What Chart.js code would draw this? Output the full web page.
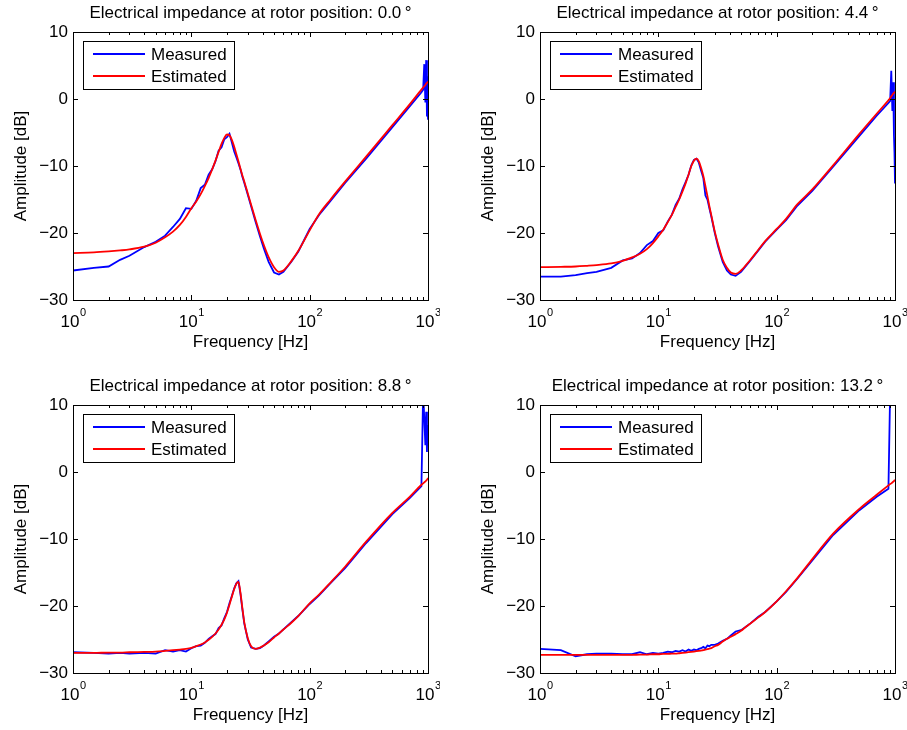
<!DOCTYPE html>
<html>
<head>
<meta charset="utf-8">
<title>Electrical impedance</title>
<script src="https://cdn.jsdelivr.net/npm/chart.js@4.4.0/dist/chart.umd.min.js"></script>
<style>
  html, body { margin: 0; padding: 0; background: #fff; overflow: hidden; }
  body { width: 907px; height: 730px; position: relative; }
  .panel { position: absolute; }
</style>
</head>
<body>
<div class="panel" style="left:0px;top:0px"><canvas id="c0" width="440" height="365"></canvas></div>
<div class="panel" style="left:467px;top:0px"><canvas id="c1" width="440" height="365"></canvas></div>
<div class="panel" style="left:0px;top:373px"><canvas id="c2" width="440" height="365"></canvas></div>
<div class="panel" style="left:467px;top:373px"><canvas id="c3" width="440" height="365"></canvas></div>
<script>
// Rotor positions (deg) shown in the panel titles
const rotorPositions = ["0.0", "4.4", "8.8", "13.2"];

// Frequency grid [Hz]
const freq = [1, 1.5, 2, 2.5, 3, 4, 5, 6, 7, 8, 9, 10, 11, 12, 13, 14, 15, 16, 17, 18,
  19, 20, 21, 22, 23, 24, 25, 26, 27, 28, 30, 32, 35, 38, 41, 45, 50, 55, 60, 70,
  80, 100, 120, 150, 200, 300, 500, 700, 880, 910, 930, 950, 965, 980, 990, 1000];

// Amplitude [dB] per rotor position
const measured0 = [-25.6, -25.2, -25.0, -24.0, -23.4, -22.1, -21.3, -20.4, -19.1, -17.9,
  -16.3, -16.4, -15.2, -13.3, -12.8, -11.3, -10.5, -9.3, -7.7, -7.2,
  -6.0, -5.7, -5.2, -6.5, -7.8, -8.7, -9.6, -10.5, -11.6, -12.5,
  -14.3, -16.0, -18.4, -20.5, -22.3, -24.3, -25.9, -26.2, -25.8, -24.3,
  -22.8, -19.4, -17.3, -15.2, -12.5, -8.9, -4.2, -1.1, 1.0, 1.4,
  5.2, -0.5, 5.8, -2.6, 3.4, -3.1];
const estimated0 = [-23.0, -22.9, -22.75, -22.6, -22.45, -22.05, -21.45, -20.65, -19.8, -18.8,
  -17.6, -16.3, -15.3, -14.2, -13.0, -11.8, -10.5, -9.2, -7.9, -6.7,
  -5.8, -5.3, -5.4, -6.1, -7.1, -8.2, -9.3, -10.4, -11.4, -12.3,
  -14.1, -15.8, -18.1, -20.1, -21.8, -23.6, -25.1, -25.8, -25.6, -24.2,
  -22.7, -19.6, -17.2, -15.0, -12.3, -8.6, -3.9, -0.8, 1.4, 1.7,
  1.9, 2.1, 2.3, 2.4, 2.5, 2.6];

const measured1 = [-26.5, -26.5, -26.3, -26.0, -25.8, -25.2, -24.1, -23.8, -23.0, -21.8,
  -21.2, -20.0, -19.6, -18.3, -17.3, -15.8, -14.9, -13.5, -12.4, -11.3,
  -9.9, -9.1, -8.9, -9.5, -10.7, -11.8, -14.4, -15.0, -16.3, -17.5,
  -20.0, -22.0, -24.3, -25.6, -26.2, -26.4, -25.8, -24.9, -24.1, -22.6,
  -21.3, -19.5, -18.1, -15.9, -13.7, -10.1, -5.5, -2.5, -0.6, -0.3,
  4.2, -1.8, 2.5, -5.5, -8.0, -12.6];
const estimated1 = [-25.1, -25.05, -25.0, -24.9, -24.8, -24.55, -24.15, -23.65, -23.1, -22.4,
  -21.5, -20.5, -19.5, -18.4, -17.3, -16.1, -15.0, -13.8, -12.6, -11.3,
  -10.0, -9.2, -8.9, -9.3, -10.3, -11.5, -13.0, -14.5, -16.0, -17.3,
  -19.8, -21.7, -24.0, -25.2, -25.9, -26.1, -25.6, -24.8, -24.0, -22.5,
  -21.2, -19.4, -17.9, -15.7, -13.5, -9.9, -5.2, -2.2, -0.2, 0.1,
  0.4, 0.6, 0.8, 0.9, 1.0, 1.1];

const measured2 = [-26.9, -27.0, -27.1, -27.0, -27.1, -27.0, -27.1, -26.6, -26.8, -26.6,
  -26.8, -26.3, -26.0, -25.9, -25.5, -24.9, -24.5, -24.2, -23.3, -22.9,
  -21.8, -20.9, -19.6, -18.5, -17.4, -16.6, -16.3, -18.2, -20.5, -22.6,
  -25.0, -26.2, -26.4, -26.3, -25.9, -25.3, -24.6, -24.1, -23.5, -22.4,
  -21.5, -19.7, -18.4, -16.6, -14.3, -10.6, -6.3, -3.9, -2.1, 12.0,
  8.0, 4.0, 9.0, 3.0, 7.0, 5.0];
const estimated2 = [-27.0, -27.0, -26.95, -26.95, -26.9, -26.85, -26.8, -26.7, -26.6, -26.5,
  -26.4, -26.25, -26.0, -25.75, -25.45, -25.05, -24.6, -24.1, -23.5, -22.8,
  -22.0, -21.0, -19.8, -18.6, -17.5, -16.7, -16.4, -18.0, -20.3, -22.4,
  -24.8, -26.0, -26.4, -26.2, -25.9, -25.4, -24.7, -24.1, -23.5, -22.5,
  -21.5, -19.6, -18.3, -16.5, -14.1, -10.4, -6.1, -3.7, -1.9, -1.7,
  -1.55, -1.4, -1.3, -1.15, -1.05, -0.9];

const measured3 = [-26.4, -26.6, -27.5, -27.2, -27.1, -27.1, -27.2, -27.2, -26.9, -27.2,
  -27.0, -27.1, -27.0, -26.8, -26.9, -26.7, -26.8, -26.6, -26.8, -26.5,
  -26.7, -26.5, -26.6, -26.4, -26.3, -26.1, -26.3, -25.9, -26.0, -25.8,
  -25.8, -25.6, -25.2, -24.9, -24.4, -23.8, -23.6, -23.1, -22.6, -21.6,
  -20.9, -19.3, -17.9, -15.9, -13.2, -9.4, -5.7, -3.7, -2.5, 12.0,
  14.0, 13.0, 15.0, 14.0, 15.0, 16.0];
const estimated3 = [-27.3, -27.3, -27.3, -27.3, -27.3, -27.3, -27.3, -27.3, -27.25, -27.25,
  -27.2, -27.2, -27.15, -27.15, -27.1, -27.1, -27.05, -27.0, -26.95, -26.9,
  -26.85, -26.8, -26.75, -26.7, -26.65, -26.6, -26.5, -26.45, -26.35, -26.3,
  -26.0, -25.8, -25.3, -24.9, -24.6, -24.2, -23.7, -23.1, -22.6, -21.7,
  -20.9, -19.3, -17.8, -15.8, -13.0, -9.2, -5.5, -3.4, -2.0, -1.8,
  -1.7, -1.55, -1.45, -1.35, -1.25, -1.15];

const measuredSets = [measured0, measured1, measured2, measured3];
const estimatedSets = [estimated0, estimated1, estimated2, estimated3];

// Axis ticks
const xTickExponents = [0, 1, 2, 3];
const yMin = -30, yMax = 10, yStep = 10;

const FONT = "'Liberation Sans', Arial, Helvetica, sans-serif";
Chart.defaults.font.family = FONT;
Chart.defaults.font.size = 17;
Chart.defaults.color = "#000";

// MATLAB-like axes: box, inward ticks, 10^n labels, title and legend box
const matlabAxes = {
  id: "matlabAxes",
  afterDraw(chart, args, opts) {
    const { ctx, chartArea: a } = chart;
    const x = chart.scales.x;
    const y = chart.scales.y;
    ctx.save();
    ctx.strokeStyle = "#000";
    ctx.lineWidth = 1;

    // box
    ctx.strokeRect(a.left + 0.5, a.top + 0.5, a.right - a.left, a.bottom - a.top);

    // ticks
    ctx.beginPath();
    y.ticks.forEach((t) => {
      const py = Math.round(y.getPixelForValue(t.value)) + 0.5;
      ctx.moveTo(a.left, py);
      ctx.lineTo(a.left + 5, py);
      ctx.moveTo(a.right, py);
      ctx.lineTo(a.right - 5, py);
    });
    for (let d = 1; d <= 1000; d *= 10) {
      for (let m = 1; m <= 9; m++) {
        if (d === 1000 && m > 1) break;
        const px = Math.round(x.getPixelForValue(d * m)) + 0.5;
        const len = m === 1 ? 5 : 3;
        ctx.moveTo(px, a.bottom);
        ctx.lineTo(px, a.bottom - len);
        ctx.moveTo(px, a.top);
        ctx.lineTo(px, a.top + len);
      }
    }
    ctx.stroke();

    // x tick labels 10^n
    ctx.fillStyle = "#000";
    ctx.textAlign = "left";
    ctx.textBaseline = "alphabetic";
    xTickExponents.forEach((e) => {
      const px = x.getPixelForValue(Math.pow(10, e));
      ctx.font = "17px " + FONT;
      const w1 = ctx.measureText("10").width;
      ctx.font = "11px " + FONT;
      const w2 = ctx.measureText(String(e)).width;
      const left = px - (w1 + w2) / 2;
      ctx.font = "17px " + FONT;
      ctx.fillText("10", left, a.bottom + 27);
      ctx.font = "11px " + FONT;
      ctx.fillText(String(e), left + w1 + 0.5, a.bottom + 16);
    });

    // title
    ctx.font = "17px " + FONT;
    ctx.textAlign = "center";
    ctx.fillText(opts.title, (a.left + a.right) / 2, a.top - 14);

    // legend
    const bx = a.left + 10, by = a.top + 9, bw = 151, bh = 48;
    ctx.fillStyle = "#fff";
    ctx.fillRect(bx, by, bw, bh);
    ctx.strokeStyle = "#000";
    ctx.strokeRect(bx + 0.5, by + 0.5, bw, bh);
    ctx.textAlign = "left";
    chart.data.datasets.forEach((ds, i) => {
      const ly = by + 13 + i * 22;
      ctx.strokeStyle = ds.borderColor;
      ctx.lineWidth = 2;
      ctx.beginPath();
      ctx.moveTo(bx + 10, ly);
      ctx.lineTo(bx + 62, ly);
      ctx.stroke();
      ctx.fillStyle = "#000";
      ctx.font = "17px " + FONT;
      ctx.fillText(ds.label, bx + 68, ly + 6);
    });
    ctx.restore();
  },
};

function toPoints(values) {
  return freq.map((f, i) => ({ x: f, y: values[i] }));
}

rotorPositions.forEach((pos, i) => {
  new Chart(document.getElementById("c" + i), {
    type: "line",
    data: {
      datasets: [
        {
          label: "Measured",
          data: toPoints(measuredSets[i]),
          borderColor: "#0000ff",
          borderWidth: 1.8,
          pointRadius: 0,
          tension: 0,
          order: 1,
        },
        {
          label: "Estimated",
          data: toPoints(estimatedSets[i]),
          borderColor: "#ff0000",
          borderWidth: 1.8,
          pointRadius: 0,
          cubicInterpolationMode: "monotone",
          order: 0,
        },
      ],
    },
    options: {
      responsive: false,
      animation: false,
      layout: { padding: { top: 32, right: 12, left: 0, bottom: 0 } },
      scales: {
        x: {
          type: "logarithmic",
          min: 1,
          max: 1000,
          grid: { display: false, drawTicks: false },
          border: { display: false },
          ticks: { display: false },
          title: {
            display: true,
            text: "Frequency [Hz]",
            font: { size: 17 },
            padding: { top: 0, bottom: 12 },
          },
          afterFit: (scale) => { scale.height = 65; },
        },
        y: {
          type: "linear",
          min: yMin,
          max: yMax,
          grid: { display: false, drawTicks: false },
          border: { display: false },
          ticks: {
            stepSize: yStep,
            padding: 5,
            font: { size: 17 },
            callback: (v) => (v < 0 ? "\u2212" + Math.abs(v) : String(v)),
          },
          title: {
            display: true,
            text: "Amplitude [dB]",
            font: { size: 17 },
            padding: { top: 11, bottom: 0 },
          },
          afterFit: (scale) => { scale.width = 73; },
        },
      },
      plugins: {
        legend: { display: false },
        tooltip: { enabled: false },
        matlabAxes: { title: "Electrical impedance at rotor position: " + pos + "\u2009\u00b0" },
      },
    },
    plugins: [matlabAxes],
  });
});
</script>
</body>
</html>
